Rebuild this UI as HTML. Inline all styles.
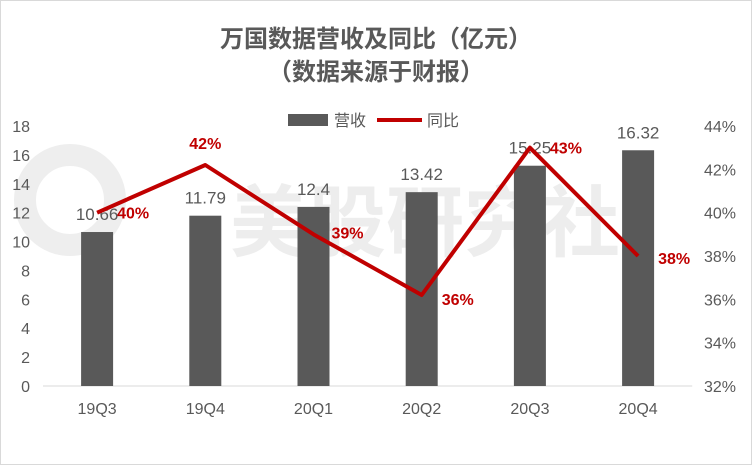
<!DOCTYPE html>
<html><head><meta charset="utf-8"><style>
html,body{margin:0;padding:0;background:#fff;}
svg{display:block;font-family:"Liberation Sans","Noto Sans CJK SC",sans-serif;}
</style></head><body>
<svg id="c" width="752" height="465" viewBox="0 0 752 465">
<rect x="0.5" y="0.5" width="751" height="464" fill="#fff" stroke="#d9d9d9"/>
<g opacity="0.1">
<circle cx="70" cy="200" r="45" fill="none" stroke="#555" stroke-width="22"/>
<text x="230" y="250" font-size="78" font-weight="bold" fill="#555">美股研究社</text>
</g>
<text x="376" y="47" text-anchor="middle" font-size="24" font-weight="bold" fill="#595959">万国数据营收及同比（亿元）</text>
<text x="376" y="80" text-anchor="middle" font-size="24" font-weight="bold" fill="#595959">（数据来源于财报）</text>
<g>
<rect x="288" y="114" width="40" height="12" fill="#595959"/>
<text x="334" y="126" font-size="16" fill="#595959">营收</text>
<line x1="377" y1="120" x2="422" y2="120" stroke="#c00000" stroke-width="4"/>
<text x="427" y="126" font-size="16" fill="#595959">同比</text>
</g>
<g id="axes"></g><g id="bars"></g><g id="line"></g>
</svg>
<script>
const categories=["19Q3","19Q4","20Q1","20Q2","20Q3","20Q4"];
const revenue=[10.66,11.79,12.4,13.42,15.25,16.32];
const revenueLabels=["10.66","11.79","12.4","13.42","15.25","16.32"];
const yoy=[40.0,42.2,39.0,36.2,43.0,38.0];
const yoyLabels=["40%","42%","39%","36%","43%","38%"];
const leftTicks=[0,2,4,6,8,10,12,14,16,18];
const rightTicks=[32,34,36,38,40,42,44];
const NS="http://www.w3.org/2000/svg";
const yTop=126,yBot=386,x0=43,step=108.2;
const yL=v=>yBot-(v/18)*(yBot-yTop);
const yR=v=>yBot-((v-32)/12)*(yBot-yTop);
const xC=i=>x0+step*(i+0.5);
function mk(p,t,a){const e=document.createElementNS(NS,t);for(const k in a)e.setAttribute(k,a[k]);document.getElementById(p).appendChild(e);return e;}
let ax=mk("axes","line",{x1:x0,y1:yBot,x2:x0+step*6,y2:yBot,stroke:"#d9d9d9"});


leftTicks.forEach(v=>{const t=mk("axes","text",{x:30,y:yL(v)+6,"text-anchor":"end","font-size":16,fill:"#595959"});t.textContent=v;

});
rightTicks.forEach(v=>{const t=mk("axes","text",{x:704,y:yR(v)+6,"font-size":16,fill:"#595959"});t.textContent=v+"%";

});
categories.forEach((c,i)=>{const t=mk("axes","text",{x:xC(i),y:414,"text-anchor":"middle","font-size":16,fill:"#595959"});t.textContent=c;

});
revenue.forEach((v,i)=>{const r=mk("bars","rect",{x:xC(i)-16,y:yL(v),width:32,height:yBot-yL(v),fill:"#595959"});


const t=mk("bars","text",{x:xC(i),y:yL(v)-12,"text-anchor":"middle","font-size":17,fill:"#595959"});t.textContent=revenueLabels[i];

});
const pl=mk("line","polyline",{points:yoy.map((v,i)=>xC(i)+","+yR(v)).join(" "),fill:"none",stroke:"#c00000","stroke-width":4,"stroke-linejoin":"round"});


const off=[[20,6],[0,-16],[18,4],[20,10],[20,6],[20,8]];
yoy.forEach((v,i)=>{const t=mk("line","text",{x:xC(i)+off[i][0],y:yR(v)+off[i][1],"font-size":16,"font-weight":"bold",fill:"#c00000","text-anchor":i==1?"middle":"start"});t.textContent=yoyLabels[i];

});
</script>
</body></html>
